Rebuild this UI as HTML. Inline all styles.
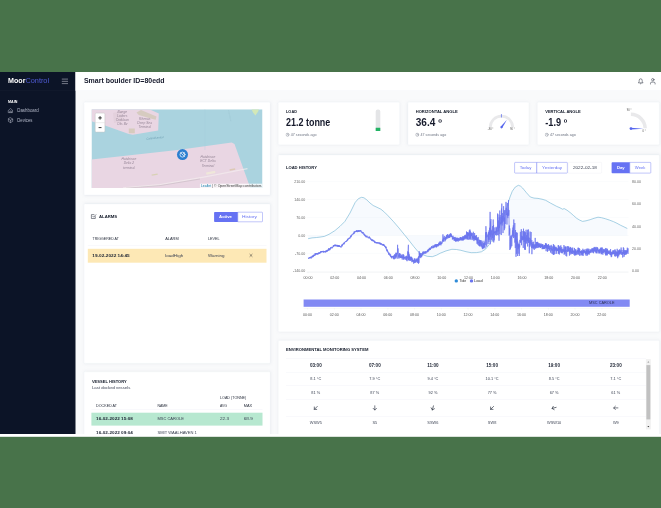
<!DOCTYPE html>
<html lang="en"><head><meta charset="utf-8"><title>MoorControl - Smart boulder</title>
<style>
html,body{margin:0;padding:0}
body{width:661px;height:508px;overflow:hidden;background:#48734a;font-family:"Liberation Sans",sans-serif;position:relative}
#app{position:absolute;left:0;top:0;width:6610px;height:5080px;transform:scale(.1);transform-origin:0 0;overflow:hidden;will-change:transform}
#app div,#app span,#app svg{position:absolute;box-sizing:border-box}
.t{white-space:nowrap;line-height:1;transform-origin:0 50%;display:block}
.card{background:#fff;border:3px solid #f2f4f9;border-radius:12px;box-shadow:0 0 30px 0 rgba(183,192,206,.22)}
.hl{background:#e9ecf3;height:3px}
</style></head><body><div id="app">

<div style="left:0px;top:3000px;width:6610px;height:1368px;background:#fff"></div>
<div id="dash" style="left:0;top:720px;width:6610px;height:3620px;overflow:hidden;background:#f9fafb">
<div style="left:0px;top:0px;width:755px;height:3620px;background:#0c1427"></div>
<div style="left:0px;top:185.5px;width:755px;height:3px;background:#1b2439"></div>
<span class="t" style="left:80px;top:47.8px;font-size:78px;color:#fff;font-weight:700;transform:scaleX(0.913);">Moor</span>
<span class="t" style="left:255px;top:47.8px;font-size:78px;color:#4f5bd5;transform:scaleX(0.935);">Control</span>
<svg style="left:610px;top:50px" width="80" height="90" viewBox="61 77 8 9" ><g stroke="#c9ccd6" stroke-width="0.55" stroke-linecap="round"><path d="M62.2 79.1H67.6M62.2 81.35H67.6M62.2 83.6H67.6"/></g></svg>
<span class="t" style="left:80px;top:279.4px;font-size:35px;color:#fff;font-weight:700;transform:scaleX(1.040);">MAIN</span>
<svg style="left:70px;top:340px" width="80" height="190" viewBox="7 106 8 19" ><g fill="none" stroke="#b8bccb" stroke-width="0.5" stroke-linejoin="round" stroke-linecap="round"><path d="M8.6 110.2L10.55 108.5L12.5 110.2V112.6H8.6Z"/><path d="M9.8 112.6V111h1.5v1.6"/><path d="M10.55 117.8L12.7 119v2.4L10.55 122.6L8.4 121.4V119Z"/><path d="M8.5 119.1l2.05 1.2l2.05-1.2M10.55 120.3v2.2"/></g></svg>
<span class="t" style="left:172px;top:362.4px;font-size:45px;color:#b4b9c9;transform:scaleX(0.977);">Dashboard</span>
<span class="t" style="left:172px;top:463.4px;font-size:45px;color:#b4b9c9;transform:scaleX(0.950);">Devices</span>
<div style="left:755px;top:0px;width:5855px;height:187px;background:#fff;border-bottom:3px solid #f0f2f7"></div>
<span class="t" style="left:839px;top:49.3px;font-size:73px;color:#15192b;font-weight:700;transform:scaleX(0.959);">Smart boulder ID=80edd</span>
<svg style="left:6360px;top:40px" width="220" height="100" viewBox="636 76 22 10" ><g fill="none" stroke="#2a2f3f" stroke-width="0.55" stroke-linecap="round" stroke-linejoin="round"><path d="M638.6 82.6c0.6-0.5 0.6-1.3 0.6-2.2a1.5 1.6 0 0 1 3 0c0 0.900 0 1.700 0.600 2.200Z"/><path d="M640.2 83.600a0.600 0.600 0 0 0 1 0"/><circle cx="652.8" cy="79.7" r="1.2"/><path d="M650.500 84v-0.600a1.300 1.300 0 0 1 1.300-1.300h2a1.300 1.300 0 0 1 1.300 1.300v0.600"/></g></svg>
<div class="card" style="left:840px;top:301px;width:1862px;height:930px;"></div>
<div class="card" style="left:840px;top:1318px;width:1862px;height:1596px;"></div>
<div class="card" style="left:840px;top:2997px;width:1862px;height:983px;"></div>
<div class="card" style="left:2782px;top:301px;width:1215px;height:428px;"></div>
<div class="card" style="left:4078px;top:301px;width:1212px;height:428px;"></div>
<div class="card" style="left:5373px;top:301px;width:1221px;height:428px;"></div>
<div class="card" style="left:2782px;top:828px;width:3812px;height:1771px;"></div>
<div class="card" style="left:2782px;top:2683px;width:3812px;height:1297px;"></div>
<svg style="left:915px;top:373px" width="1710" height="786" viewBox="91.5 109.3 171 78.6" ><rect x="91.5" y="109.3" width="171" height="78.6" fill="#aad3df"/><path d="M91.500 109.300H149.300L158.800 113.500L158.200 130.500L132.900 134.700L128.800 133.900L105.700 125.700L91.500 121.200Z" fill="#e9d6e3"/><path d="M136.500 112.500l4.500-2.400l15.500 6.300l-0.800 3.300l-5-1.200l-12-3.500Z" fill="#d6cbc0"/><path d="M128.800 128.600h6v4.700h-6Z" fill="#d6cbbd"/><path d="M113 113l9-2l1 10l-9 2Z" fill="#e3d0dc"/><path d="M91.500 159.600L177.500 150.100L231.700 142.600L234.500 144L250.300 187.900H91.500Z" fill="#e9d6e3"/><path d="M123 187.900L160 184.600L205 176.800L247.500 168.600" stroke="#f3ecee" stroke-width="1.3" fill="none" opacity=".7"/><path d="M126 188.200L160 185.600L200 179" stroke="#aaa5a8" stroke-width="0.45" fill="none" opacity=".75"/><path d="M206 172.500l9-1.800l0.500 2.200l-9 1.800Z" fill="#efe9d8" opacity=".9"/><path d="M229.500 169.200l5.500-1l0.400 1.600l-5.500 1Z" fill="#ddc9b5"/><path d="M151.500 174.500l6-1l0.300 1.200l-6 1Z" fill="#d9d1b6"/><path d="M251.500 109.300h7.500l-1 2.500l-2.600 3.600l-2.400-3Z" fill="#d3e8b8"/><path d="M228.500 110.500l2.500 11" stroke="#8fb8c6" stroke-width="0.35" stroke-dasharray="0.8 0.6" fill="none"/><path d="M204.900 109.300V150" stroke="#a2ccd9" stroke-width="0.3" fill="none"/><circle cx="182.500" cy="154.600" r="5.500" fill="#2b7fd0"/><g fill="none" stroke="#fff" stroke-width="0.7" stroke-linecap="round"><circle cx="182.500" cy="154.600" r="2.500"/><path d="M180.700 152.800l3.600 3.600M184.300 152.800l-1.300 1.300"/></g><rect x="95.200" y="113.100" width="9.700" height="19" rx="1" fill="#fff" stroke="#c4c4c4" stroke-width="0.5"/><path d="M95.400 122.700h9.300" stroke="#ccc" stroke-width="0.35"/><path d="M98.300 117.900h3.500M100.050 116.150v3.500M98.600 127.600h2.900" stroke="#222" stroke-width="0.9"/><rect x="199.900" y="183.700" width="62.600" height="4.200" fill="#fff" opacity=".8"/></svg>
<span class="t" style="left:1175.3px;top:384.4px;font-size:33px;color:#857587;font-style:italic;opacity:.85;">Bunge</span>
<span class="t" style="left:1172.5px;top:423.4px;font-size:33px;color:#857587;font-style:italic;opacity:.85;">Loders</span>
<span class="t" style="left:1157px;top:460.4px;font-size:33px;color:#857587;font-style:italic;opacity:.85;">Croklaan</span>
<span class="t" style="left:1170.7px;top:498.4px;font-size:33px;color:#857587;font-style:italic;opacity:.85;">Oils Bv</span>
<span class="t" style="left:1390.1px;top:456.4px;font-size:33px;color:#857587;font-style:italic;opacity:.85;">Rhenus</span>
<span class="t" style="left:1373.6px;top:492.4px;font-size:33px;color:#857587;font-style:italic;opacity:.85;">Deep Sea</span>
<span class="t" style="left:1384.3px;top:530.4px;font-size:33px;color:#857587;font-style:italic;opacity:.85;">Terminal</span>
<span class="t" style="left:1215.6px;top:849.4px;font-size:33px;color:#857587;font-style:italic;opacity:.85;">Hutchison</span>
<span class="t" style="left:1236.7px;top:895.4px;font-size:33px;color:#857587;font-style:italic;opacity:.85;">Delta 2</span>
<span class="t" style="left:1230.3px;top:941.4px;font-size:33px;color:#857587;font-style:italic;opacity:.85;">terminal</span>
<span class="t" style="left:2005.6px;top:827.4px;font-size:33px;color:#857587;font-style:italic;opacity:.85;">Hutchison</span>
<span class="t" style="left:2002.9px;top:875.4px;font-size:33px;color:#857587;font-style:italic;opacity:.85;">ECT Delta</span>
<span class="t" style="left:2016.3px;top:919.4px;font-size:33px;color:#857587;font-style:italic;opacity:.85;">Terminal</span>
<span class="t" style="left:1464.4px;top:653.9px;font-size:28px;color:#6f9fb3;font-style:italic;transform:rotate(-6deg);">Calandkanaal</span>
<span class="t" style="left:2009px;top:1122.4px;font-size:33px;color:#0078a8;transform:scaleX(1.040);">Leaflet</span>
<span class="t" style="left:2122px;top:1122.4px;font-size:33px;color:#333;transform:scaleX(1.061);">| © OpenStreetMap contributors</span>
<svg style="left:900px;top:1410px" width="70" height="70" viewBox="90 213 7 7" ><g fill="none" stroke="#2a2f3f" stroke-width="0.55" stroke-linecap="round" stroke-linejoin="round"><path d="M95.300 216.600v1.900h-3.900v-3.900h2.600"/><path d="M92.700 216.200l1 1l2.200-2.500"/></g></svg>
<span class="t" style="left:990px;top:1419.9px;font-size:44px;color:#111827;font-weight:700;transform:scaleX(0.962);">ALARMS</span>
<div style="left:2141px;top:1400px;width:238px;height:100px;background:#6672f3;border-radius:8px 0 0 8px"></div>
<div style="left:2376px;top:1400px;width:251px;height:100px;background:#fff;border:4px solid #6672f3;border-radius:0 8px 8px 0"></div>
<span class="t" style="left:2191px;top:1427.4px;font-size:43px;color:#fff;font-weight:700;">Active</span>
<span class="t" style="left:2419px;top:1427.4px;font-size:43px;color:#6672f3;transform:scaleX(1.121);">History</span>
<span class="t" style="left:926px;top:1649.4px;font-size:35px;color:#262c3a;transform:scaleX(1.016);">TRIGGERED AT</span>
<span class="t" style="left:1652px;top:1649.4px;font-size:35px;color:#262c3a;transform:scaleX(1.119);">ALARM</span>
<span class="t" style="left:2079px;top:1649.4px;font-size:35px;color:#262c3a;transform:scaleX(1.074);">LEVEL</span>
<div class="hl" style="left:878px;top:1732px;width:1787px;height:3px;"></div>
<div style="left:878px;top:1768px;width:1787px;height:139px;background:#fde8b5"></div>
<span class="t" style="left:923px;top:1814.9px;font-size:40px;color:#1d2433;font-weight:700;transform:scaleX(1.173);">19-02-2022 14:45</span>
<span class="t" style="left:1652px;top:1814.9px;font-size:40px;color:#3a4152;transform:scaleX(1.140);">loadHigh</span>
<span class="t" style="left:2079px;top:1814.9px;font-size:40px;color:#3a4152;transform:scaleX(1.119);">Warning</span>
<svg style="left:2480px;top:1800px" width="60" height="70" viewBox="248 252 6 7" ><path d="M249.900 254.300l2.200 2.200M252.100 254.300l-2.200 2.200" stroke="#333" stroke-width="0.5" stroke-linecap="round"/></svg>
<span class="t" style="left:919px;top:3070.9px;font-size:44px;color:#111827;font-weight:700;transform:scaleX(0.920);">VESSEL HISTORY</span>
<span class="t" style="left:919px;top:3132.4px;font-size:39px;color:#3a4152;transform:scaleX(1.093);">Last docked vessels</span>
<span class="t" style="left:2200px;top:3235.4px;font-size:35px;color:#262c3a;transform:scaleX(1.047);">LOAD (TONNE)</span>
<span class="t" style="left:961px;top:3315.4px;font-size:35px;color:#262c3a;transform:scaleX(1.047);">DOCKED AT</span>
<span class="t" style="left:1574px;top:3315.4px;font-size:35px;color:#262c3a;">NAME</span>
<span class="t" style="left:2200px;top:3315.4px;font-size:35px;color:#262c3a;transform:scaleX(0.982);">AVG</span>
<span class="t" style="left:2437px;top:3315.4px;font-size:35px;color:#262c3a;transform:scaleX(1.107);">MAX</span>
<div class="hl" style="left:914px;top:3372px;width:1711px;height:3px;"></div>
<div style="left:914px;top:3407px;width:1711px;height:129px;background:#b7e8d0"></div>
<span class="t" style="left:961px;top:3449.9px;font-size:40px;color:#1d2433;font-weight:700;transform:scaleX(1.157);">16-02-2022 15:08</span>
<span class="t" style="left:1574px;top:3450.4px;font-size:39px;color:#3a4152;transform:scaleX(1.031);">MSC CAROLE</span>
<span class="t" style="left:2200px;top:3450.4px;font-size:39px;color:#3a4152;transform:scaleX(1.186);">22.3</span>
<span class="t" style="left:2437px;top:3450.4px;font-size:39px;color:#3a4152;transform:scaleX(1.212);">68.9</span>
<span class="t" style="left:961px;top:3582.9px;font-size:40px;color:#1d2433;font-weight:700;transform:scaleX(1.157);">16-02-2022 09:04</span>
<span class="t" style="left:1574px;top:3583.4px;font-size:39px;color:#3a4152;transform:scaleX(1.049);">SMIT WAALHAVEN 1</span>
<span class="t" style="left:2860px;top:370.4px;font-size:43px;color:#111827;font-weight:700;transform:scaleX(0.903);">LOAD</span>
<span class="t" style="left:2860px;top:454.2px;font-size:101px;color:#15192b;font-weight:700;transform:scaleX(0.887);">21.2 tonne</span>
<svg style="left:2855px;top:605px" width="40" height="45" viewBox="285.5 132.5 4 4.5" ><g fill="none" stroke="#6b7280" stroke-width="0.4" stroke-linecap="round"><circle cx="287.6" cy="134.7" r="1.6"/><path d="M287.6 133.8v1l0.700 0.400"/></g></svg>
<span class="t" style="left:2908px;top:609.4px;font-size:35px;color:#6b7280;transform:scaleX(1.040);">47 seconds ago</span>
<span class="t" style="left:4157px;top:370.4px;font-size:43px;color:#111827;font-weight:700;transform:scaleX(0.957);">HORIZONTAL ANGLE</span>
<span class="t" style="left:4157px;top:454.2px;font-size:101px;color:#15192b;font-weight:700;">36.4 º</span>
<svg style="left:4152px;top:605px" width="40" height="45" viewBox="415.2 132.5 4 4.5" ><g fill="none" stroke="#6b7280" stroke-width="0.4" stroke-linecap="round"><circle cx="417.3" cy="134.7" r="1.6"/><path d="M417.3 133.8v1l0.700 0.400"/></g></svg>
<span class="t" style="left:4205px;top:609.4px;font-size:35px;color:#6b7280;transform:scaleX(1.040);">47 seconds ago</span>
<span class="t" style="left:5452px;top:370.4px;font-size:43px;color:#111827;font-weight:700;transform:scaleX(0.944);">VERTICAL ANGLE</span>
<span class="t" style="left:5452px;top:454.2px;font-size:101px;color:#15192b;font-weight:700;transform:scaleX(0.912);">-1.9 º</span>
<svg style="left:5447px;top:605px" width="40" height="45" viewBox="544.7 132.5 4 4.5" ><g fill="none" stroke="#6b7280" stroke-width="0.4" stroke-linecap="round"><circle cx="546.8" cy="134.7" r="1.6"/><path d="M546.8 133.8v1l0.700 0.400"/></g></svg>
<span class="t" style="left:5500px;top:609.4px;font-size:35px;color:#6b7280;transform:scaleX(1.040);">47 seconds ago</span>
<div style="left:3757px;top:374px;width:46px;height:216px;background:#e4e5e7;border-radius:20px 20px 4px 4px"></div>
<div style="left:3757px;top:558px;width:46px;height:32px;background:#22b364;border-radius:2px"></div>
<svg style="left:4860px;top:400px" width="320" height="200" viewBox="486 112 32 20" ><path d="M490.25 127.3A11.2 11.2 0 0 1 512.65 127.3" fill="none" stroke="#e9e9eb" stroke-width="2.700"/><path d="M501.45 114.100V117.500" stroke="#5565ee" stroke-width="0.7"/><path d="M500.55 126.7L506.900 119.700L502.2 128.05Z" fill="#5565ee"/><circle cx="501.45" cy="127.3" r="1.100" fill="#5565ee"/></svg>
<span class="t" style="left:4878.4px;top:553.9px;font-size:26px;color:#444;">-90 °</span>
<span class="t" style="left:5100.7px;top:553.9px;font-size:26px;color:#444;">90 °</span>
<svg style="left:6260px;top:360px" width="240" height="260" viewBox="626 108 24 26" ><path d="M630.9 114.35A14.25 14.25 0 0 1 645.15 128.3" fill="none" stroke="#e9e9eb" stroke-width="3.500"/><path d="M630.9 127.8L643.300 128.8L630.9 129.4Z" fill="#5565ee"/><circle cx="630.9" cy="128.6" r="1.300" fill="#5565ee"/></svg>
<span class="t" style="left:6267.7px;top:369.9px;font-size:26px;color:#444;">90 °</span>
<span class="t" style="left:6425px;top:576.9px;font-size:26px;color:#444;">0 °</span>
<span class="t" style="left:2859px;top:931.4px;font-size:43px;color:#111827;font-weight:700;transform:scaleX(0.961);">LOAD HISTORY</span>
<div style="left:5144px;top:902px;width:225px;height:111px;background:#fff;border:4px solid #6672f3;border-radius:8px 0 0 8px"></div>
<div style="left:5366px;top:902px;width:310px;height:111px;background:#fff;border:4px solid #6672f3;border-radius:0 8px 8px 0"></div>
<div style="left:5679px;top:902px;width:339px;height:111px;background:#fff;border:3px solid #e6e8ef;border-radius:8px"></div>
<div style="left:6116px;top:902px;width:183px;height:111px;background:#6672f3;border-radius:8px 0 0 8px"></div>
<div style="left:6296px;top:902px;width:214px;height:111px;background:#fff;border:4px solid #6672f3;border-radius:0 8px 8px 0"></div>
<span class="t" style="left:5197px;top:936.9px;font-size:42px;color:#6672f3;transform:scaleX(1.035);">Today</span>
<span class="t" style="left:5421px;top:936.9px;font-size:42px;color:#6672f3;transform:scaleX(1.074);">Yesterday</span>
<span class="t" style="left:5729px;top:936.9px;font-size:42px;color:#3a4152;transform:scaleX(1.117);">2022-02-18</span>
<span class="t" style="left:6169px;top:936.9px;font-size:42px;color:#fff;font-weight:700;">Day</span>
<span class="t" style="left:6348px;top:936.9px;font-size:42px;color:#6672f3;">Week</span>
<span class="t" style="left:2941.9px;top:1077.9px;font-size:36px;color:#666;">210.00</span>
<span class="t" style="left:2941.9px;top:1256.9px;font-size:36px;color:#666;">140.00</span>
<span class="t" style="left:2961.9px;top:1435.9px;font-size:36px;color:#666;">70.00</span>
<span class="t" style="left:2981.9px;top:1616.9px;font-size:36px;color:#666;">0.00</span>
<span class="t" style="left:2949.9px;top:1794.9px;font-size:36px;color:#666;">-70.00</span>
<span class="t" style="left:2929.9px;top:1972.9px;font-size:36px;color:#666;">-140.00</span>
<span class="t" style="left:6319px;top:1077.9px;font-size:36px;color:#666;">80.00</span>
<span class="t" style="left:6319px;top:1302.9px;font-size:36px;color:#666;">60.00</span>
<span class="t" style="left:6319px;top:1525.9px;font-size:36px;color:#666;">40.00</span>
<span class="t" style="left:6319px;top:1749.9px;font-size:36px;color:#666;">20.00</span>
<span class="t" style="left:6319px;top:1972.9px;font-size:36px;color:#666;">0.00</span>
<span class="t" style="left:3036px;top:2036.9px;font-size:36px;color:#555;">00:00</span>
<span class="t" style="left:3031px;top:2407.9px;font-size:36px;color:#555;">00:00</span>
<span class="t" style="left:3303.5px;top:2036.9px;font-size:36px;color:#555;">02:00</span>
<span class="t" style="left:3298.5px;top:2407.9px;font-size:36px;color:#555;">02:00</span>
<span class="t" style="left:3571px;top:2036.9px;font-size:36px;color:#555;">04:00</span>
<span class="t" style="left:3566px;top:2407.9px;font-size:36px;color:#555;">04:00</span>
<span class="t" style="left:3838.5px;top:2036.9px;font-size:36px;color:#555;">06:00</span>
<span class="t" style="left:3833.5px;top:2407.9px;font-size:36px;color:#555;">06:00</span>
<span class="t" style="left:4106px;top:2036.9px;font-size:36px;color:#555;">08:00</span>
<span class="t" style="left:4101px;top:2407.9px;font-size:36px;color:#555;">08:00</span>
<span class="t" style="left:4373.5px;top:2036.9px;font-size:36px;color:#555;">10:00</span>
<span class="t" style="left:4368.5px;top:2407.9px;font-size:36px;color:#555;">10:00</span>
<span class="t" style="left:4641px;top:2036.9px;font-size:36px;color:#555;">12:00</span>
<span class="t" style="left:4636px;top:2407.9px;font-size:36px;color:#555;">12:00</span>
<span class="t" style="left:4908.5px;top:2036.9px;font-size:36px;color:#555;">14:00</span>
<span class="t" style="left:4903.5px;top:2407.9px;font-size:36px;color:#555;">14:00</span>
<span class="t" style="left:5176px;top:2036.9px;font-size:36px;color:#555;">16:00</span>
<span class="t" style="left:5171px;top:2407.9px;font-size:36px;color:#555;">16:00</span>
<span class="t" style="left:5443.5px;top:2036.9px;font-size:36px;color:#555;">18:00</span>
<span class="t" style="left:5438.5px;top:2407.9px;font-size:36px;color:#555;">18:00</span>
<span class="t" style="left:5711px;top:2036.9px;font-size:36px;color:#555;">20:00</span>
<span class="t" style="left:5706px;top:2407.9px;font-size:36px;color:#555;">20:00</span>
<span class="t" style="left:5978.5px;top:2036.9px;font-size:36px;color:#555;">22:00</span>
<span class="t" style="left:5973.5px;top:2407.9px;font-size:36px;color:#555;">22:00</span>
<svg style="left:3000px;top:1040px" width="3320" height="1360" viewBox="300 176 332 136" ><path d="M306.6 181.6H628.5" stroke="#f1f2f5" stroke-width="0.35"/><path d="M306.6 199.5H628.5" stroke="#f1f2f5" stroke-width="0.35"/><path d="M306.6 217.4H628.5" stroke="#f1f2f5" stroke-width="0.35"/><path d="M306.6 235.5H628.5" stroke="#f1f2f5" stroke-width="0.35"/><path d="M306.6 253.3H628.5" stroke="#f1f2f5" stroke-width="0.35"/><path d="M306.6 272.100H628.5" stroke="#dfe2e8" stroke-width="0.4"/><path d="M308.1 272.100v1.200" stroke="#dfe2e8" stroke-width="0.35"/><path d="M334.85 272.100v1.200" stroke="#dfe2e8" stroke-width="0.35"/><path d="M361.6 272.100v1.200" stroke="#dfe2e8" stroke-width="0.35"/><path d="M388.35 272.100v1.200" stroke="#dfe2e8" stroke-width="0.35"/><path d="M415.1 272.100v1.200" stroke="#dfe2e8" stroke-width="0.35"/><path d="M441.85 272.100v1.200" stroke="#dfe2e8" stroke-width="0.35"/><path d="M468.6 272.100v1.200" stroke="#dfe2e8" stroke-width="0.35"/><path d="M495.35 272.100v1.200" stroke="#dfe2e8" stroke-width="0.35"/><path d="M522.1 272.100v1.200" stroke="#dfe2e8" stroke-width="0.35"/><path d="M548.85 272.100v1.200" stroke="#dfe2e8" stroke-width="0.35"/><path d="M575.6 272.100v1.200" stroke="#dfe2e8" stroke-width="0.35"/><path d="M602.35 272.100v1.200" stroke="#dfe2e8" stroke-width="0.35"/><path d="M308.1 238.7L312.0 237.9L316.6 237.5L320.0 237.1L324.3 236.4L329.0 234.3L334.8 230.7L340.0 226.3L344.9 221.4L350.0 213.0L355.2 202.4L358.5 198.6L361.6 197.3L364.0 197.8L366.7 199.8L370.0 203.0L373.2 205.5L377.0 207.3L380.9 209.2L384.5 212.2L388.1 215.8L393.5 221.6L398.9 227.9L404.0 234.2L409.2 240.7L413.8 246.6L418.2 251.8L422.5 254.6L427.2 256.3L432.3 256.7L436.5 255.2L440.3 253.2L446.0 250.9L451.9 249.3L456.5 249.5L460.9 250.3L466.0 251.7L471.2 252.7L476.5 252.6L481.4 251.8L485.5 249.2L489.2 244.6L494.5 236.0L499.4 226.6L503.5 216.3L507.2 206.0L510.0 197.0L512.3 191.2L515.3 187.0L518.4 185.3L520.6 186.2L522.6 188.0L526.5 192.8L530.3 197.0L534.0 198.1L538.0 198.4L542.0 199.2L545.7 200.3L550.5 203.1L556.7 206.4L560.0 207.8L562.5 209.2L564.2 208.6L567.0 210.2L570.1 212.5L573.5 215.5L576.8 218.4L579.8 220.2L582.6 221.4L586.0 220.8L590.1 219.7L594.0 218.3L598.0 217.2L601.5 217.7L605.2 218.7L609.5 220.1L613.6 221.7L617.0 223.3L620.3 225.1L624.0 226.9L627.3 228.5L627.3 235.500L308.1 235.500Z" fill="#4f8fe6" fill-opacity=".045"/><path d="M308.1 238.7L312.0 237.9L316.6 237.5L320.0 237.1L324.3 236.4L329.0 234.3L334.8 230.7L340.0 226.3L344.9 221.4L350.0 213.0L355.2 202.4L358.5 198.6L361.6 197.3L364.0 197.8L366.7 199.8L370.0 203.0L373.2 205.5L377.0 207.3L380.9 209.2L384.5 212.2L388.1 215.8L393.5 221.6L398.9 227.9L404.0 234.2L409.2 240.7L413.8 246.6L418.2 251.8L422.5 254.6L427.2 256.3L432.3 256.7L436.5 255.2L440.3 253.2L446.0 250.9L451.9 249.3L456.5 249.5L460.9 250.3L466.0 251.7L471.2 252.7L476.5 252.6L481.4 251.8L485.5 249.2L489.2 244.6L494.5 236.0L499.4 226.6L503.5 216.3L507.2 206.0L510.0 197.0L512.3 191.2L515.3 187.0L518.4 185.3L520.6 186.2L522.6 188.0L526.5 192.8L530.3 197.0L534.0 198.1L538.0 198.4L542.0 199.2L545.7 200.3L550.5 203.1L556.7 206.4L560.0 207.8L562.5 209.2L564.2 208.6L567.0 210.2L570.1 212.5L573.5 215.5L576.8 218.4L579.8 220.2L582.6 221.4L586.0 220.8L590.1 219.7L594.0 218.3L598.0 217.2L601.5 217.7L605.2 218.7L609.5 220.1L613.6 221.7L617.0 223.3L620.3 225.1L624.0 226.9L627.3 228.5" fill="none" stroke="#6db1d2" stroke-width="0.6" stroke-linejoin="round"/><path d="M308.30 257.88L308.52 258.58L308.74 257.61L308.96 258.81L309.18 257.91L309.40 258.11L309.62 257.29L309.84 258.02L310.06 257.01L310.28 258.10L310.50 256.74L310.72 258.14L310.94 257.40L311.16 258.52L311.38 256.96L311.60 257.55L311.82 256.28L312.04 257.20L312.26 255.77L312.48 257.20L312.70 255.63L312.92 257.18L313.14 255.63L313.36 256.74L313.58 254.69L313.80 256.06L314.02 255.09L314.24 256.04L314.46 255.01L314.68 255.44L314.90 253.55L315.12 255.34L315.34 253.46L315.56 255.15L315.78 253.36L316.00 254.63L316.22 253.21L316.44 254.26L316.66 253.15L316.88 254.20L317.10 253.28L317.32 254.42L317.54 253.24L317.76 254.53L317.98 253.14L318.20 254.27L318.42 252.45L318.64 253.73L318.86 252.92L319.08 253.34L319.30 252.72L319.52 253.68L319.74 252.30L319.96 253.49L320.18 252.01L320.40 253.09L320.62 251.47L320.84 252.04L321.06 251.03L321.28 252.46L321.50 251.01L321.72 252.28L321.94 251.49L322.16 251.93L322.38 251.14L322.60 251.84L322.82 251.30L323.04 252.40L323.26 250.80L323.48 252.03L323.70 251.22L323.92 252.85L324.14 251.11L324.36 251.82L324.58 251.03L324.80 252.00L325.02 251.73L325.24 251.89L325.46 251.06L325.68 252.60L325.90 250.53L326.12 251.67L326.34 250.79L326.56 251.59L326.78 250.22L327.00 251.85L327.22 249.93L327.44 251.22L327.66 249.79L327.88 250.10L328.10 249.81L328.32 250.69L328.54 248.48L328.76 250.48L328.98 248.35L329.20 249.66L329.42 248.96L329.64 250.32L329.86 248.16L330.08 249.81L330.30 248.42L330.52 249.00L330.74 247.10L330.96 248.67L331.18 247.35L331.40 247.80L331.62 246.86L331.84 247.48L332.06 247.01L332.28 248.27L332.50 247.16L332.72 247.61L332.94 246.12L333.16 246.49L333.38 245.16L333.60 246.87L333.82 245.38L334.04 245.94L334.26 245.03L334.48 246.13L334.70 244.78L334.92 246.19L335.14 244.56L335.36 246.18L335.58 244.85L335.80 246.08L336.02 244.95L336.24 246.03L336.46 245.75L336.68 246.37L336.90 244.78L337.12 246.34L337.34 245.02L337.56 246.45L337.78 245.33L338.00 246.76L338.22 245.46L338.44 246.54L338.66 245.06L338.88 246.79L339.10 245.27L339.32 247.01L339.54 245.55L339.76 246.64L339.98 245.92L340.20 246.89L340.42 246.43L340.64 247.19L340.86 246.61L341.08 247.50L341.30 246.00L341.52 246.13L341.74 244.84L341.96 246.57L342.18 244.36L342.40 245.68L342.62 244.14L342.84 244.82L343.06 243.74L343.28 244.19L343.50 243.24L343.72 244.18L343.94 242.74L344.16 244.21L344.38 242.19L344.60 243.16L344.82 242.42L345.04 242.37L345.26 241.56L345.48 242.08L345.70 241.32L345.92 242.01L346.14 240.97L346.36 241.52L346.58 240.69L346.80 241.35L347.02 240.00L347.24 240.77L347.46 238.83L347.68 240.39L347.90 238.89L348.12 239.59L348.34 238.78L348.56 239.13L348.78 238.01L349.00 238.91L349.22 237.67L349.44 238.24L349.66 237.79L349.88 238.60L350.10 236.97L350.32 237.32L350.54 235.82L350.76 237.43L350.98 235.55L351.20 236.82L351.42 235.26L351.64 236.01L351.86 234.49L352.08 235.10L352.30 234.47L352.52 234.58L352.74 234.07L352.96 234.53L353.18 233.14L353.40 234.09L353.62 232.87L353.84 233.99L354.06 231.64L354.28 233.43L354.50 231.75L354.72 232.54L354.94 231.08L355.16 232.14L355.38 231.40L355.60 232.02L355.82 231.46L356.04 231.92L356.26 230.51L356.48 231.94L356.70 230.42L356.92 231.58L357.14 230.19L357.36 232.16L357.58 231.39L357.80 231.91L358.02 230.30L358.24 231.68L358.46 230.47L358.68 231.73L358.90 230.25L359.12 231.58L359.34 230.44L359.56 231.30L359.78 230.63L360.00 231.55L360.22 230.13L360.44 230.90L360.66 230.17L360.88 231.71L361.10 230.70L361.32 232.13L361.54 231.71L361.76 232.63L361.98 231.80L362.20 233.24L362.42 232.15L362.64 233.36L362.86 232.15L363.08 233.48L363.30 232.42L363.52 233.69L363.74 233.66L363.96 235.02L364.18 233.60L364.40 235.34L364.62 234.57L364.84 235.89L365.06 234.72L365.28 236.46L365.50 235.29L365.72 236.71L365.94 236.21L366.16 237.38L366.38 236.17L366.60 236.81L366.82 235.48L367.04 237.35L367.26 236.48L367.48 236.97L367.70 236.86L367.92 237.52L368.14 236.90L368.36 238.37L368.58 237.62L368.80 237.72L369.02 236.63L369.24 237.88L369.46 236.70L369.68 238.51L369.90 237.41L370.12 238.30L370.34 238.24L370.56 239.49L370.78 238.33L371.00 239.42L371.22 239.07L371.44 240.46L371.66 239.33L371.88 240.61L372.10 239.53L372.32 241.07L372.54 239.70L372.76 240.64L372.98 239.81L373.20 241.46L373.42 240.62L373.64 241.10L373.86 240.03L374.08 241.63L374.30 241.00L374.52 242.43L374.74 241.05L374.96 243.11L375.18 241.69L375.40 242.61L375.62 242.12L375.84 243.10L376.06 242.27L376.28 243.32L376.50 242.13L376.72 243.16L376.94 242.53L377.16 243.38L377.38 242.34L377.60 243.12L377.82 242.45L378.04 243.65L378.26 242.36L378.48 243.18L378.70 243.00L378.92 243.43L379.14 242.40L379.36 244.12L379.58 242.65L379.80 243.63L380.02 243.24L380.24 244.46L380.46 242.75L380.68 244.39L380.90 243.01L381.12 244.53L381.34 243.60L381.56 244.37L381.78 243.76L382.00 245.12L382.22 244.33L382.44 245.40L382.66 244.24L382.88 245.08L383.10 244.23L383.32 245.62L383.54 243.96L383.76 245.70L383.98 244.45L384.20 245.84L384.42 245.26L384.64 246.69L384.86 245.67L385.08 247.06L385.30 246.41L385.52 247.99L385.74 246.62L385.96 248.51L386.18 246.84L386.40 249.55L386.62 248.90L386.84 251.14L387.06 249.23L387.28 251.47L387.50 250.01L387.72 252.28L387.94 251.47L388.16 252.54L388.38 252.26L388.60 254.46L388.82 252.48L389.04 254.62L389.26 253.90L389.48 254.62L389.70 253.37L389.92 255.66L390.14 254.79L390.36 256.27L390.58 254.33L390.80 257.02L391.02 255.93L391.24 257.52L391.46 256.26L391.68 258.35L391.90 255.88L392.12 256.96L392.34 255.99L392.56 257.02L392.78 257.12L393.00 258.25L393.22 255.97L393.44 258.48L393.66 255.50L393.88 259.26L394.10 256.35L394.32 259.17L394.54 254.30L394.76 256.44L394.98 255.00L395.20 258.58L395.42 254.37L395.64 257.40L395.86 252.74L396.08 258.38L396.30 252.92L396.52 256.58L396.74 253.13L396.96 254.20L397.18 252.42L397.40 252.50L397.60 244.80L397.62 251.55L397.84 258.75L398.06 248.39L398.28 254.54L398.50 254.49L398.72 257.42L398.94 254.66L399.16 258.40L399.38 253.29L399.60 256.47L399.82 253.08L400.04 257.74L400.26 254.02L400.48 257.65L400.70 256.43L400.92 258.08L401.14 255.92L401.36 258.13L401.58 254.66L401.80 257.21L402.02 255.54L402.24 259.58L402.46 256.84L402.68 257.91L402.90 254.26L403.12 258.20L403.34 254.55L403.56 259.47L403.78 254.91L404.00 259.64L404.22 256.97L404.44 258.50L404.66 256.68L404.88 258.15L405.10 257.24L405.32 258.19L405.54 256.48L405.76 259.65L405.98 257.64L406.20 259.82L406.42 255.77L406.64 260.33L406.86 256.37L407.08 261.21L407.30 256.53L407.52 258.42L407.74 251.36L407.96 255.67L408.18 249.37L408.40 244.80L408.40 260.01L408.62 252.00L408.84 260.52L409.06 253.85L409.28 259.58L409.50 255.64L409.72 260.77L409.94 257.01L410.16 259.72L410.38 256.97L410.60 260.84L410.82 256.58L411.04 260.02L411.26 256.86L411.48 260.27L411.70 257.16L411.92 262.21L412.14 257.90L412.36 261.48L412.58 259.52L412.80 261.29L413.02 259.70L413.24 261.92L413.46 260.19L413.68 263.68L413.90 260.53L414.12 260.80L414.34 258.26L414.56 262.76L414.78 258.96L415.00 262.98L415.22 259.62L415.44 262.35L415.66 260.68L415.88 261.54L416.10 258.42L416.32 261.31L416.54 259.22L416.76 262.30L416.98 260.29L417.20 260.71L417.42 258.46L417.64 263.05L417.86 258.66L418.08 261.64L418.30 256.97L418.52 263.72L418.74 256.19L418.96 262.85L419.18 255.16L419.20 251.20L419.40 257.51L419.62 253.18L419.84 257.27L420.06 253.43L420.28 256.76L420.50 253.37L420.72 258.10L420.94 254.64L421.16 256.27L421.38 254.92L421.60 257.08L421.82 253.14L422.04 256.17L422.26 253.60L422.48 254.61L422.70 251.72L422.92 254.59L423.14 252.78L423.36 253.69L423.58 251.46L423.80 254.14L424.02 252.25L424.24 253.12L424.46 251.61L424.68 253.34L424.90 251.74L425.12 253.78L425.34 251.88L425.56 252.79L425.78 251.01L426.00 253.41L426.22 251.56L426.44 252.13L426.66 251.81L426.88 252.48L427.10 250.88L427.32 251.61L427.54 249.79L427.76 252.15L427.98 250.04L428.20 251.59L428.42 249.00L428.64 250.63L428.86 249.69L429.08 250.17L429.30 247.86L429.52 250.19L429.74 248.34L429.96 249.72L430.18 247.83L430.40 249.82L430.62 248.00L430.84 248.22L431.06 247.11L431.28 248.48L431.50 246.05L431.72 248.02L431.94 247.30L432.16 248.36L432.38 247.19L432.60 247.84L432.82 245.56L433.04 247.12L433.26 246.33L433.48 248.17L433.70 245.72L433.92 247.32L434.14 245.29L434.36 247.48L434.58 245.48L434.80 246.34L435.02 244.35L435.24 246.48L435.46 244.70L435.68 246.73L435.90 244.26L436.12 247.52L436.34 244.43L436.56 247.13L436.78 244.38L437.00 246.74L437.22 244.00L437.44 245.49L437.66 244.00L437.88 246.22L438.10 244.02L438.32 246.20L438.54 243.48L438.76 244.47L438.98 242.55L439.20 245.31L439.42 243.29L439.64 245.10L439.86 241.66L440.08 245.09L440.30 241.40L440.52 243.85L440.74 243.09L440.96 245.29L441.18 241.97L441.40 244.03L441.62 242.97L441.84 243.94L442.06 241.37L442.28 242.59L442.50 239.70L442.72 241.15L442.90 234.80L442.94 234.37L443.16 241.45L443.38 238.55L443.60 241.58L443.82 237.42L444.04 239.20L444.26 235.93L444.48 239.19L444.70 238.47L444.92 241.44L445.14 238.18L445.36 240.42L445.58 237.06L445.80 240.01L446.02 236.65L446.24 238.08L446.46 235.02L446.68 238.81L446.90 236.50L447.12 238.69L447.34 234.46L447.56 237.56L447.78 234.15L448.00 236.74L448.22 235.78L448.44 238.16L448.66 235.53L448.88 237.78L449.10 234.87L449.32 237.65L449.54 234.77L449.76 237.85L449.98 233.99L450.20 236.68L450.42 233.45L450.64 236.46L450.86 233.38L451.08 236.65L451.30 234.26L451.52 236.67L451.74 235.48L451.96 237.19L452.18 236.01L452.40 239.47L452.62 237.43L452.84 239.10L453.06 235.73L453.28 239.34L453.50 237.53L453.72 238.98L453.94 237.50L454.16 240.80L454.38 236.98L454.60 240.20L454.82 238.48L455.04 240.88L455.26 236.94L455.48 241.17L455.70 238.45L455.92 241.89L456.14 237.91L456.36 241.12L456.58 237.75L456.80 240.97L457.02 238.83L457.24 241.09L457.46 237.83L457.68 240.80L457.90 237.84L458.12 241.67L458.34 238.81L458.56 240.27L458.78 238.00L459.00 240.70L459.22 238.83L459.44 240.31L459.66 238.41L459.88 240.44L460.10 237.19L460.32 239.66L460.54 237.32L460.76 240.09L460.98 237.36L461.20 240.59L461.42 237.50L461.64 239.64L461.86 238.32L462.08 240.17L462.30 237.46L462.52 240.34L462.74 236.28L462.96 240.28L463.18 237.31L463.40 240.30L463.62 236.21L463.84 239.45L464.06 237.20L464.28 239.57L464.50 235.44L464.72 238.38L464.94 235.78L465.16 238.74L465.38 234.73L465.60 238.27L465.82 235.71L466.04 239.48L466.26 235.82L466.48 238.56L466.50 231.50L466.70 234.93L466.92 237.62L467.14 232.56L467.36 239.30L467.58 232.19L467.80 239.21L468.02 232.94L468.24 239.79L468.46 232.50L468.68 235.93L468.90 234.35L469.12 235.62L469.34 230.39L469.56 239.34L469.78 231.72L469.90 229.50L470.00 239.41L470.22 230.74L470.44 238.35L470.66 232.49L470.88 239.62L471.10 232.54L471.32 235.86L471.54 233.26L471.76 236.21L471.98 233.45L472.20 240.09L472.42 235.95L472.64 238.61L472.86 233.05L473.08 238.07L473.30 231.76L473.52 239.50L473.74 236.53L473.96 241.08L474.18 235.47L474.40 239.08L474.62 233.04L474.84 240.07L475.06 236.08L475.28 239.79L475.50 235.72L475.72 240.16L475.94 236.63L476.16 239.93L476.38 235.04L476.60 240.42L476.82 237.42L477.04 243.77L477.26 238.83L477.48 243.32L477.70 237.89L477.92 244.67L478.14 236.98L478.36 243.00L478.58 242.06L478.80 245.43L479.02 239.59L479.24 245.94L479.46 240.17L479.68 246.32L479.90 240.30L480.12 246.19L480.34 240.26L480.56 244.53L480.78 240.55L481.00 246.44L481.22 240.44L481.44 246.09L481.66 243.82L481.88 247.36L482.10 242.11L482.32 248.57L482.54 245.81L482.76 249.14L482.98 240.77L483.20 248.24L483.42 243.50L483.64 248.20L483.86 242.99L484.08 245.01L484.30 242.98L484.52 247.22L484.74 241.52L484.96 248.34L485.18 239.93L485.40 240.33L485.62 232.27L485.84 244.97L485.90 226.20L486.06 231.17L486.28 237.40L486.50 232.02L486.72 246.60L486.94 235.70L487.16 236.58L487.38 236.34L487.60 236.24L487.82 234.48L488.04 244.00L488.26 232.57L488.48 239.65L488.70 231.85L488.92 241.89L489.14 230.28L489.36 234.72L489.58 227.73L489.80 239.85L490.02 222.31L490.10 211.90L490.24 244.28L490.46 221.53L490.68 236.81L490.90 219.10L491.12 234.31L491.34 231.01L491.56 239.82L491.78 229.81L492.00 235.30L492.22 233.92L492.44 238.18L492.66 226.14L492.88 241.50L493.10 225.92L493.20 219.50L493.32 234.52L493.54 224.91L493.76 242.40L493.98 231.11L494.20 240.36L494.42 231.97L494.64 233.35L494.86 227.45L495.08 232.83L495.30 230.86L495.52 234.86L495.74 231.55L495.96 232.55L496.18 226.82L496.40 235.46L496.62 227.80L496.84 231.86L497.06 229.64L497.28 235.03L497.50 225.68L497.60 213.50L497.72 228.74L497.94 214.38L498.16 235.32L498.38 220.40L498.60 231.43L498.82 224.60L499.04 240.77L499.26 217.19L499.48 228.13L499.70 217.24L499.80 210.50L499.92 234.09L500.14 215.07L500.36 224.26L500.58 222.66L500.80 223.06L501.02 217.02L501.24 235.03L501.46 208.49L501.68 223.63L501.80 203.60L501.90 219.71L502.12 225.51L502.34 213.08L502.56 222.58L502.78 216.03L503.00 233.05L503.22 218.39L503.44 221.48L503.60 206.20L503.66 208.32L503.88 218.98L504.10 210.25L504.32 230.19L504.54 217.48L504.76 228.43L504.98 210.21L505.20 224.08L505.42 215.47L505.64 215.67L505.86 211.22L506.00 201.90L506.08 214.94L506.30 207.92L506.52 214.87L506.74 213.85L506.96 224.53L507.18 203.87L507.40 203.00L507.40 216.23L507.62 212.79L507.84 218.15L508.06 209.33L508.28 215.64L508.50 200.10L508.50 206.73L508.72 215.56L508.94 210.12L509.16 235.70L509.38 225.53L509.60 234.31L509.82 228.43L509.90 250.00L510.04 241.44L510.26 236.14L510.48 248.83L510.70 237.79L510.92 238.57L511.00 247.50L511.14 234.86L511.36 238.50L511.58 236.36L511.80 246.11L512.02 237.38L512.24 237.35L512.46 230.39L512.68 236.51L512.90 227.58L513.12 235.61L513.34 225.35L513.56 238.07L513.78 221.81L513.80 219.50L514.00 235.50L514.22 234.98L514.44 237.38L514.66 237.10L514.80 223.00L514.88 242.61L515.10 237.27L515.32 248.06L515.54 230.02L515.76 241.40L515.98 233.08L516.00 256.80L516.20 242.37L516.42 232.22L516.64 253.85L516.86 238.83L517.08 247.14L517.30 232.75L517.52 253.31L517.60 256.00L517.74 241.53L517.96 249.36L518.18 244.24L518.40 248.36L518.62 244.27L518.84 253.76L519.06 243.23L519.28 251.83L519.30 256.00L519.50 244.60L519.72 247.45L519.94 239.90L520.16 243.01L520.38 231.83L520.60 242.29L520.82 240.48L521.04 241.26L521.26 234.30L521.30 229.20L521.48 245.18L521.70 235.71L521.92 240.29L522.14 231.07L522.36 240.13L522.58 236.31L522.80 239.86L523.02 237.13L523.24 247.94L523.46 238.83L523.50 228.70L523.68 239.77L523.90 231.52L524.12 242.03L524.34 231.32L524.56 249.67L524.78 232.43L525.00 241.61L525.22 237.32L525.44 249.88L525.66 232.20L525.88 244.07L526.00 230.50L526.10 229.76L526.32 243.22L526.54 235.24L526.76 240.86L526.98 237.98L527.20 241.32L527.42 229.76L527.64 246.45L527.86 232.80L528.08 241.21L528.30 235.57L528.50 229.50L528.52 242.80L528.74 237.42L528.96 242.92L529.18 237.84L529.30 253.30L529.40 243.40L529.62 240.53L529.84 247.05L530.06 231.53L530.28 245.62L530.50 238.67L530.72 243.16L530.94 241.49L531.10 232.00L531.16 244.14L531.38 243.17L531.60 248.06L531.82 240.23L531.90 254.20L532.04 249.46L532.26 242.06L532.48 247.39L532.70 243.88L532.92 248.40L533.14 244.13L533.36 247.90L533.58 241.75L533.80 248.80L534.02 244.82L534.24 249.92L534.46 244.75L534.68 247.08L534.90 244.32L535.12 248.24L535.20 237.90L535.34 243.75L535.56 248.45L535.78 244.04L536.00 248.24L536.22 242.14L536.44 247.55L536.66 241.94L536.88 247.50L537.10 242.09L537.32 245.93L537.54 241.86L537.76 248.05L537.98 243.72L538.20 247.43L538.42 242.72L538.64 247.30L538.86 244.00L539.08 246.95L539.30 244.32L539.52 247.04L539.74 243.09L539.96 247.50L540.18 245.22L540.40 248.02L540.62 244.14L540.84 247.50L541.06 243.51L541.28 247.12L541.50 244.84L541.72 246.65L541.94 244.30L542.16 249.23L542.38 244.57L542.60 248.55L542.82 244.08L543.04 248.96L543.26 245.53L543.48 248.89L543.70 246.51L543.92 249.15L544.14 244.95L544.36 248.99L544.58 245.28L544.80 248.26L545.02 244.91L545.24 248.29L545.46 243.22L545.68 247.58L545.90 243.54L546.12 251.20L546.34 243.53L546.56 248.44L546.78 245.23L547.00 248.12L547.22 244.79L547.44 251.74L547.66 244.90L547.88 251.10L548.10 246.49L548.32 249.06L548.54 244.02L548.76 248.59L548.98 245.67L549.20 250.79L549.42 245.70L549.64 249.88L549.86 247.77L550.08 248.77L550.30 248.10L550.52 252.56L550.74 245.78L550.96 248.69L551.18 244.89L551.40 250.34L551.62 248.19L551.84 253.56L552.06 246.12L552.28 250.74L552.50 248.95L552.72 254.26L552.94 247.08L553.16 249.25L553.38 244.12L553.60 255.00L553.60 254.12L553.82 244.82L554.04 254.56L554.26 246.93L554.48 251.04L554.70 245.57L554.92 254.03L555.14 247.03L555.36 249.93L555.58 247.73L555.80 250.71L556.02 246.78L556.24 251.27L556.46 247.71L556.68 253.84L556.90 247.95L557.12 250.72L557.34 248.62L557.56 251.07L557.78 248.95L558.00 250.61L558.22 245.19L558.44 253.85L558.66 245.42L558.88 253.17L559.10 247.90L559.32 254.51L559.54 247.15L559.76 250.03L559.98 246.02L560.20 252.48L560.42 248.05L560.64 250.63L560.86 245.30L561.08 252.50L561.30 248.79L561.52 253.15L561.74 247.10L561.96 250.22L562.18 249.31L562.40 253.31L562.62 249.55L562.84 252.33L563.06 248.74L563.28 250.97L563.50 249.63L563.72 251.91L563.94 245.05L564.16 254.76L564.38 249.58L564.60 253.68L564.82 246.64L565.04 253.66L565.26 246.52L565.48 252.00L565.70 247.18L565.92 255.79L566.14 246.53L566.36 250.67L566.58 250.03L566.70 256.40L566.80 252.46L567.02 250.62L567.24 251.53L567.46 246.18L567.68 251.86L567.90 248.80L568.12 250.83L568.34 246.52L568.56 251.02L568.78 246.56L569.00 251.99L569.22 250.66L569.44 255.63L569.66 247.65L569.88 253.04L570.10 247.93L570.32 251.74L570.54 246.95L570.76 254.54L570.98 248.32L571.20 253.45L571.42 251.39L571.64 253.70L571.86 247.76L572.08 251.93L572.30 248.85L572.52 254.00L572.74 247.59L572.96 252.64L573.18 251.39L573.40 252.47L573.62 250.50L573.84 254.62L574.06 250.89L574.28 253.73L574.50 247.94L574.72 255.62L574.94 251.30L575.16 255.23L575.38 249.58L575.60 254.55L575.82 249.22L576.04 255.19L576.26 251.28L576.48 252.60L576.70 251.55L576.92 254.73L577.14 250.05L577.36 253.82L577.58 250.45L577.80 251.97L578.02 247.79L578.24 254.86L578.46 247.78L578.68 253.84L578.90 250.13L579.12 251.99L579.34 248.08L579.56 255.70L579.78 249.15L580.00 252.42L580.22 251.81L580.44 253.00L580.66 251.04L580.88 255.56L581.10 251.13L581.32 254.77L581.54 250.51L581.76 253.25L581.98 250.47L582.20 255.40L582.42 251.14L582.64 254.72L582.86 248.76L583.08 255.96L583.30 250.05L583.52 253.30L583.74 249.86L583.96 252.96L584.18 250.58L584.40 252.55L584.62 250.69L584.84 252.61L585.06 249.22L585.28 254.34L585.50 251.47L585.72 254.27L585.94 251.15L586.16 255.89L586.38 248.74L586.60 254.17L586.82 250.03L587.04 252.56L587.26 250.69L587.48 255.54L587.70 248.60L587.92 254.32L588.14 248.73L588.36 254.18L588.58 250.42L588.80 253.27L589.02 248.85L589.24 254.62L589.46 251.12L589.68 252.92L589.90 250.76L590.12 253.11L590.34 249.22L590.56 252.16L590.78 250.20L591.00 252.68L591.22 250.17L591.44 250.85L591.66 248.47L591.88 252.37L592.10 249.50L592.32 252.19L592.54 248.27L592.76 250.71L592.98 248.84L593.20 252.96L593.42 247.78L593.64 253.26L593.86 250.24L594.08 251.22L594.30 246.93L594.52 250.92L594.74 247.54L594.96 251.84L595.18 250.32L595.40 251.50L595.62 247.56L595.84 252.65L596.06 246.86L596.28 253.43L596.50 249.47L596.72 253.01L596.94 247.48L597.16 251.54L597.38 247.34L597.60 250.35L597.82 247.89L598.04 253.46L598.26 249.95L598.48 251.34L598.70 249.47L598.92 252.58L599.14 249.86L599.36 253.53L599.58 249.53L599.80 253.02L600.02 248.81L600.24 252.62L600.46 247.75L600.68 250.50L600.90 249.19L601.12 254.21L601.34 247.53L601.56 254.13L601.78 248.09L602.00 251.54L602.22 247.48L602.44 253.45L602.66 250.75L602.88 254.71L603.10 248.89L603.32 252.72L603.54 249.44L603.76 252.71L603.98 251.30L604.20 251.44L604.42 249.64L604.64 252.07L604.86 248.92L605.08 253.63L605.30 250.63L605.52 255.42L605.74 247.97L605.96 254.91L606.18 248.60L606.40 254.42L606.62 250.59L606.84 255.54L607.06 248.57L607.28 255.14L607.50 249.26L607.72 253.54L607.94 250.06L608.16 253.59L608.38 251.12L608.60 253.86L608.82 251.52L609.04 253.10L609.26 252.63L609.48 254.39L609.70 250.41L609.92 253.00L610.14 251.55L610.36 255.06L610.58 249.07L610.80 255.32L611.02 252.74L611.24 257.15L611.46 251.77L611.68 256.67L611.90 252.78L612.12 254.19L612.34 252.15L612.56 254.28L612.78 250.39L613.00 254.15L613.22 251.00L613.44 254.19L613.66 250.49L613.88 253.79L614.10 250.12L614.32 254.00L614.54 252.60L614.76 256.03L614.98 249.29L615.20 256.66L615.42 250.50L615.64 254.78L615.86 253.16L616.08 256.14L616.30 251.89L616.52 254.35L616.74 251.44L616.96 255.99L617.18 248.81L617.40 256.94L617.62 252.20L617.70 258.20L617.84 254.11L618.06 249.96L618.28 255.47L618.50 251.01L618.72 256.45L618.94 250.45L619.16 254.35L619.38 249.83L619.60 254.38L619.82 249.32L620.04 254.18L620.26 250.58L620.48 252.95L620.70 250.64L620.92 254.25L621.14 247.54L621.36 253.02L621.58 252.59L621.80 254.96L622.02 250.01L622.24 254.33L622.46 252.14L622.68 257.52L622.90 252.14L623.12 253.70L623.34 247.31L623.56 253.97L623.78 248.23L624.00 256.94L624.22 251.77L624.44 255.17L624.66 250.18L624.88 254.52L625.10 250.10L625.32 254.72L625.54 250.77L625.76 253.57L625.98 250.64L626.20 254.59L626.42 250.30L626.64 254.04L626.86 250.84L627.08 252.35L627.30 247.71L627.52 252.44L627.74 248.87L627.96 253.94L628.18 248.08" fill="none" stroke="#6a74ee" stroke-width="0.7" stroke-linejoin="round"/><circle cx="456.300" cy="280.900" r="1.700" fill="#2e8bd8"/><circle cx="471.500" cy="280.900" r="1.700" fill="#6a74ee"/><rect x="303.600" y="299.500" width="326.100" height="7.300" fill="#8289f3"/><path d="M303.600 308.300H629.700" stroke="#e4e6ec" stroke-width="0.35"/><path d="M307.6 308.300v1.200" stroke="#dfe2e8" stroke-width="0.35"/><path d="M334.35 308.300v1.200" stroke="#dfe2e8" stroke-width="0.35"/><path d="M361.1 308.300v1.200" stroke="#dfe2e8" stroke-width="0.35"/><path d="M387.85 308.300v1.200" stroke="#dfe2e8" stroke-width="0.35"/><path d="M414.6 308.300v1.200" stroke="#dfe2e8" stroke-width="0.35"/><path d="M441.35 308.300v1.200" stroke="#dfe2e8" stroke-width="0.35"/><path d="M468.1 308.300v1.200" stroke="#dfe2e8" stroke-width="0.35"/><path d="M494.85 308.300v1.200" stroke="#dfe2e8" stroke-width="0.35"/><path d="M521.6 308.300v1.200" stroke="#dfe2e8" stroke-width="0.35"/><path d="M548.35 308.300v1.200" stroke="#dfe2e8" stroke-width="0.35"/><path d="M575.1 308.300v1.200" stroke="#dfe2e8" stroke-width="0.35"/><path d="M601.85 308.300v1.200" stroke="#dfe2e8" stroke-width="0.35"/></svg>
<span class="t" style="left:4595px;top:2071.9px;font-size:36px;color:#333;transform:scaleX(0.990);">Tide</span>
<span class="t" style="left:4740px;top:2071.9px;font-size:36px;color:#333;transform:scaleX(1.086);">Load</span>
<span class="t" style="left:5890px;top:2291.4px;font-size:37px;color:#2b2f55;transform:scaleX(1.046);">MSC CAROLE</span>
<span class="t" style="left:2860px;top:2758.4px;font-size:43px;color:#111827;font-weight:700;transform:scaleX(0.969);">ENVIRONMENTAL MONITORING SYSTEM</span>
<div class="hl" style="left:2860px;top:2859.5px;width:3599px;height:3px;"></div>
<div class="hl" style="left:2860px;top:3000.5px;width:3599px;height:3px;"></div>
<div class="hl" style="left:2860px;top:3134.5px;width:3599px;height:3px;"></div>
<div class="hl" style="left:2860px;top:3271.5px;width:3599px;height:3px;"></div>
<div class="hl" style="left:2860px;top:3442.5px;width:3599px;height:3px;"></div>
<span class="t" style="left:3099.2px;top:2909.9px;font-size:46px;color:#1d2433;font-weight:700;">03:00</span>
<span class="t" style="left:3103.6px;top:3047.4px;font-size:39px;color:#3a4152;">8.1 °C</span>
<span class="t" style="left:3113.6px;top:3183.4px;font-size:39px;color:#3a4152;">81 %</span>
<span class="t" style="left:3097.3px;top:3489.4px;font-size:39px;color:#3a4152;">WSW5</span>
<span class="t" style="left:3689.2px;top:2909.9px;font-size:46px;color:#1d2433;font-weight:700;">07:00</span>
<span class="t" style="left:3693.6px;top:3047.4px;font-size:39px;color:#3a4152;">7.9 °C</span>
<span class="t" style="left:3703.6px;top:3183.4px;font-size:39px;color:#3a4152;">87 %</span>
<span class="t" style="left:3724.1px;top:3489.4px;font-size:39px;color:#3a4152;">S5</span>
<span class="t" style="left:4271.4px;top:2909.9px;font-size:46px;color:#1d2433;font-weight:700;">11:00</span>
<span class="t" style="left:4274.6px;top:3047.4px;font-size:39px;color:#3a4152;">9.4 °C</span>
<span class="t" style="left:4284.6px;top:3183.4px;font-size:39px;color:#3a4152;">92 %</span>
<span class="t" style="left:4273.7px;top:3489.4px;font-size:39px;color:#3a4152;">SSW6</span>
<span class="t" style="left:4862.2px;top:2909.9px;font-size:46px;color:#1d2433;font-weight:700;">15:00</span>
<span class="t" style="left:4855.7px;top:3047.4px;font-size:39px;color:#3a4152;">10.1 °C</span>
<span class="t" style="left:4876.6px;top:3183.4px;font-size:39px;color:#3a4152;">77 %</span>
<span class="t" style="left:4878.7px;top:3489.4px;font-size:39px;color:#3a4152;">SW8</span>
<span class="t" style="left:5482.2px;top:2909.9px;font-size:46px;color:#1d2433;font-weight:700;">19:00</span>
<span class="t" style="left:5486.6px;top:3047.4px;font-size:39px;color:#3a4152;">8.5 °C</span>
<span class="t" style="left:5496.6px;top:3183.4px;font-size:39px;color:#3a4152;">67 %</span>
<span class="t" style="left:5469.5px;top:3489.4px;font-size:39px;color:#3a4152;">WSW10</span>
<span class="t" style="left:6099.2px;top:2909.9px;font-size:46px;color:#1d2433;font-weight:700;">23:00</span>
<span class="t" style="left:6103.6px;top:3047.4px;font-size:39px;color:#3a4152;">7.1 °C</span>
<span class="t" style="left:6113.6px;top:3183.4px;font-size:39px;color:#3a4152;">61 %</span>
<span class="t" style="left:6128.8px;top:3489.4px;font-size:39px;color:#3a4152;">W9</span>
<svg style="left:3000px;top:3300px" width="3320" height="120" viewBox="300 402 332 12" ><g transform="translate(315.8 407.900) rotate(225)" fill="none" stroke="#1d2433" stroke-width="0.6" stroke-linecap="round" stroke-linejoin="round"><path d="M0 2.100V-2.100M-1.700 -0.400L0 -2.100L1.700 -0.400"/></g><g transform="translate(374.8 407.900) rotate(180)" fill="none" stroke="#1d2433" stroke-width="0.6" stroke-linecap="round" stroke-linejoin="round"><path d="M0 2.100V-2.100M-1.700 -0.400L0 -2.100L1.700 -0.400"/></g><g transform="translate(432.9 407.900) rotate(195)" fill="none" stroke="#1d2433" stroke-width="0.6" stroke-linecap="round" stroke-linejoin="round"><path d="M0 2.100V-2.100M-1.700 -0.400L0 -2.100L1.700 -0.400"/></g><g transform="translate(492.1 407.900) rotate(225)" fill="none" stroke="#1d2433" stroke-width="0.6" stroke-linecap="round" stroke-linejoin="round"><path d="M0 2.100V-2.100M-1.700 -0.400L0 -2.100L1.700 -0.400"/></g><g transform="translate(554.1 407.900) rotate(255)" fill="none" stroke="#1d2433" stroke-width="0.6" stroke-linecap="round" stroke-linejoin="round"><path d="M0 2.100V-2.100M-1.700 -0.400L0 -2.100L1.700 -0.400"/></g><g transform="translate(615.8 407.900) rotate(270)" fill="none" stroke="#1d2433" stroke-width="0.6" stroke-linecap="round" stroke-linejoin="round"><path d="M0 2.100V-2.100M-1.700 -0.400L0 -2.100L1.700 -0.400"/></g></svg>
<div style="left:6459px;top:2871px;width:49px;height:703px;background:#f1f1f1"></div>
<div style="left:6464px;top:2931px;width:39px;height:543px;background:#c1c1c1"></div>
<svg style="left:6459px;top:2871px" width="49" height="703" viewBox="645.9 359.1 4.9 70.3" ><path d="M647.400 362.500l0.950-1.300l0.950 1.300Z" fill="#8a8a8a"/><path d="M647.400 426l0.950 1.300l0.950-1.300Z" fill="#333"/></svg>
</div></div></body></html>
